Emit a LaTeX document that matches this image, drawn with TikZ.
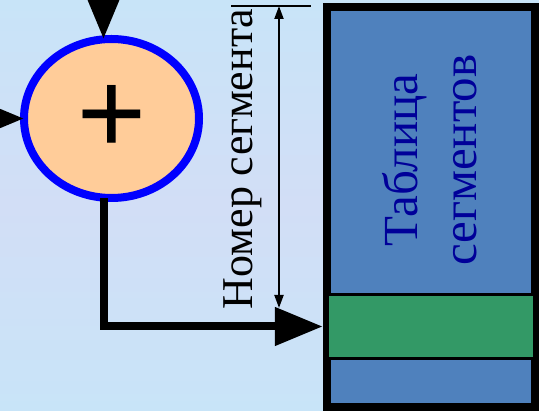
\documentclass[tikz,border=0pt]{standalone}
\usepackage{fontspec}
\setmainfont{Liberation Serif}
\usetikzlibrary{arrows.meta,shapes.geometric,calc}
\definecolor{bgc}{RGB}{210,222,246}
\definecolor{bgc2}{RGB}{200,228,248}
\definecolor{peach}{RGB}{255,204,153}
\definecolor{tblblue}{RGB}{79,129,189}
\definecolor{bandgreen}{RGB}{51,153,102}
\definecolor{txtblue}{RGB}{0,0,153}
\begin{document}
\begin{tikzpicture}[x=1pt,y=-1pt,
  bigarrow/.style={line width=8pt,-{Triangle[length=48pt,width=37pt]}},
  dimarrow/.style={line width=2pt,{Triangle[length=13pt,width=9pt]}-{Triangle[length=13pt,width=9pt]}},
  thinline/.style={line width=2pt}]
\shade[top color=bgc2,bottom color=bgc2,middle color=bgc] (0,0) rectangle (539,411);
\useasboundingbox (0,0) rectangle (539,411);
% summation node
\node[ellipse, draw=blue, line width=8pt, fill=peach, minimum width=175pt,
      minimum height=159pt, inner sep=0pt, outer sep=0pt] (sum) at (111.5,118.5) {};
\node[font=\bfseries\fontsize{124}{124}\selectfont, inner sep=0pt] (plus) at (111.5,120.5) {+};
% segment table
\node[draw=black, line width=8pt, fill=tblblue, minimum width=208pt,
      minimum height=400pt, inner sep=0pt] (table) at (431,207) {};
\node[draw=black, line width=2.5pt, fill=bandgreen, minimum width=206.5pt,
      minimum height=64pt, inner sep=0pt] (band) at (430.75,326.5) {};
\node[rotate=90, text=txtblue, align=center,
      font=\fontsize{49}{59}\selectfont] (tbltext) at (430,160) {Таблица\\сегментов};
% dimension
\coordinate (dimtop) at (279,6);
\coordinate (dimbot) at (279,308);
\coordinate (extl) at (231,6);
\coordinate (extr) at (311,6);
\draw[thinline] (extl) -- (extr);
\draw[dimarrow] (dimtop) -- (dimbot);
\node[rotate=90, anchor=base, font=\fontsize{44}{50}\selectfont] (numlbl) at (252,159) {Номер сегмента};
% connectors
\coordinate (bus) at (103.5,0);
\coordinate (topin) at (103.5,-40);
\coordinate (leftin) at (-40,118.5);
\draw[bigarrow] (topin) -- (topin |- sum.north);
\draw[bigarrow] (leftin) -- (sum.west);
\draw[bigarrow, shorten >=3.5pt] (sum.south -| bus) |- (band.west);
\end{tikzpicture}
\end{document}
